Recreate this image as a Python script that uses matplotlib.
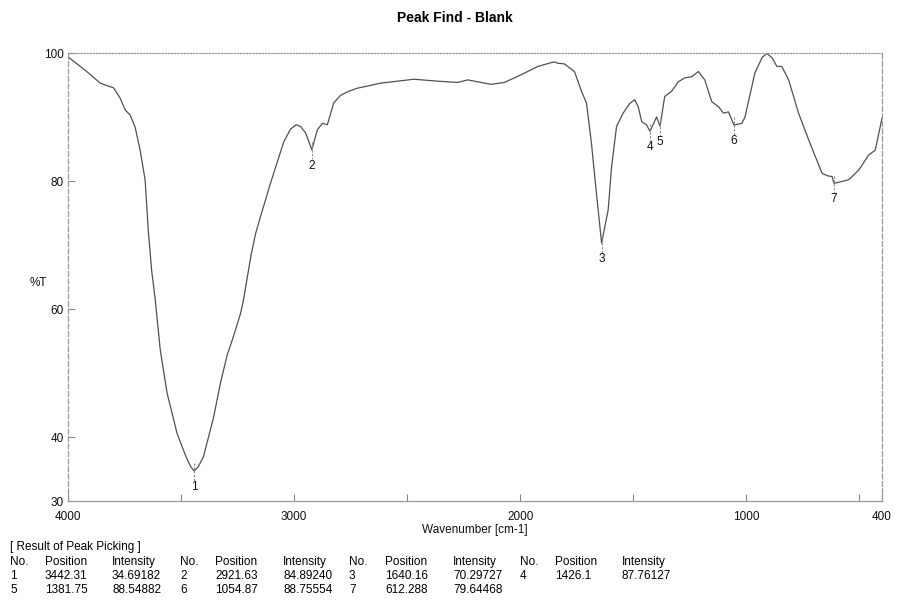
import matplotlib
matplotlib.use("Agg")
import matplotlib.pyplot as plt

plt.rcParams['font.family'] = ['Liberation Sans', 'DejaVu Sans']

# spectrum (wavenumber cm-1, %T)
wavenumber = [4000, 3960, 3917, 3858, 3820, 3800, 3792, 3770, 3747, 3725, 3703, 3681,
              3659, 3645, 3630, 3614, 3592, 3562, 3518, 3490, 3474, 3458, 3442.31, 3425,
              3401, 3356, 3326, 3296, 3275, 3255, 3237, 3224, 3190, 3170, 3149, 3104,
              3046, 3016, 2990, 2971, 2949, 2921.63, 2897, 2875, 2853, 2838, 2825,
              2794, 2760, 2720, 2616, 2543, 2470, 2365, 2276, 2232, 2188, 2129, 2070,
              1996, 1922, 1863, 1849, 1833, 1805, 1760, 1729, 1707, 1685, 1663,
              1640.16, 1611, 1596, 1574, 1545, 1516, 1494, 1478, 1463, 1441, 1426.1,
              1410, 1397, 1381.75, 1361, 1331, 1301, 1273, 1242, 1212, 1184, 1153,
              1123, 1101, 1079, 1054.87, 1035, 1020, 1006, 962, 930, 909, 885, 865,
              843, 813, 769, 724, 665, 640, 621, 612.288, 580, 547, 503, 458, 430, 400]
transmittance = [99.4, 98.3, 97.1, 95.3, 94.8, 94.6, 94.2, 93.0, 91.1, 90.3, 88.4, 84.8,
                 80.2, 72.3, 66.0, 61.4, 53.6, 46.9, 40.6, 38.0, 36.6, 35.4, 34.69, 35.3,
                 36.9, 43.1, 48.4, 52.8, 55.0, 57.2, 59.3, 61.4, 68.5, 71.8, 74.4, 79.7,
                 86.1, 88.1, 88.8, 88.5, 87.5, 84.89, 88.0, 89.0, 88.8, 90.6, 92.2,
                 93.4, 94.0, 94.5, 95.3, 95.6, 95.9, 95.6, 95.4, 95.8, 95.5, 95.1, 95.4,
                 96.6, 97.9, 98.5, 98.6, 98.4, 98.3, 97.1, 94.0, 92.2, 85.9, 78.1,
                 70.30, 75.5, 82.2, 88.5, 90.6, 92.1, 92.7, 91.6, 89.3, 88.75, 87.76,
                 89.0, 90.0, 88.55, 93.2, 94.0, 95.5, 96.1, 96.3, 97.1, 95.8, 92.4,
                 91.6, 90.6, 90.8, 88.76, 88.9, 89.0, 90.0, 96.9, 99.3, 99.95, 99.2, 97.9,
                 97.9, 95.8, 90.6, 86.4, 81.2, 80.8, 80.7, 79.64, 79.9, 80.2, 81.7, 84.1, 84.8, 89.8]

# peak picking result
peak_no = [1, 2, 3, 4, 5, 6, 7]
peak_pos = ["3442.31", "2921.63", "1640.16", "1426.1", "1381.75", "1054.87", "612.288"]
peak_int = ["34.69182", "84.89240", "70.29727", "87.76127", "88.54882", "88.75554", "79.64468"]

fig = plt.figure(figsize=(8.97, 6.01), dpi=100)
W, H = 897, 601
ax = fig.add_axes([68 / W, 1 - 501 / H, (882 - 68) / W, (501 - 53) / H])

grey = '#505050'
ax.plot(wavenumber, transmittance, color=grey, lw=0.9)

for n, p, t in zip(peak_no, peak_pos, peak_int):
    x, y = float(p), float(t)
    ax.plot([x, x], [y + 1.2, y - 1.5], color='#888888', lw=0.8, ls=(0, (2, 1.5)))
    ax.text(x, y - 2.5, str(n), ha='center', va='center', fontsize=8.5, color='#111111')

ax.set_xlim(4000, 400)
ax.set_ylim(30, 100)
ax.set_xticks([4000, 3000, 2000, 1000, 400])
ax.set_xticklabels(['4000', '3000', '2000', '1000', '400'])
ax.set_xticks([3500, 2500, 1500, 500], minor=True)
ax.set_yticks([30, 40, 60, 80, 100])
ax.set_yticks([50, 70, 90], minor=True)
ax.tick_params(axis='both', which='both', direction='in', length=5, width=0.8,
               colors='#888888', labelcolor='#111111', labelsize=8.5)
ax.tick_params(axis='x', which='both', pad=7)
ax.tick_params(axis='y', which='both', pad=3)
ax.tick_params(axis='y', which='minor', length=0)

for s in ['left', 'right']:
    ax.spines[s].set_linestyle((0, (4, 2)))
ax.spines['top'].set_linestyle((0, (1, 1.5)))
for s in ax.spines.values():
    s.set_color('#999999')
    s.set_linewidth(0.9)

ax.set_xlabel('Wavenumber [cm-1]', fontsize=8.5, labelpad=1, color='#111111')
fig.text(30 / W, 1 - 283 / H, '%T', fontsize=8.5, ha='left', va='center', color='#111111')
fig.text(455 / W, 1 - 18 / H, 'Peak Find - Blank', fontsize=10, fontweight='bold',
         ha='center', va='center')

# peak picking table
fs = 8.5
fig.text(10 / W, 1 - 547 / H, '[ Result of Peak Picking ]', fontsize=fs, va='center')
col_x = [10, 45, 112, 180, 215, 283, 349, 385, 453, 520, 555, 622]
rows_y = [562, 576, 590]
for k in range(4):
    for j, head in enumerate(['No.', 'Position', 'Intensity']):
        fig.text(col_x[3 * k + j] / W, 1 - rows_y[0] / H, head, fontsize=fs, va='center')
for i in range(len(peak_no)):
    r, c = divmod(i, 4)
    vals = [str(peak_no[i]), peak_pos[i], peak_int[i]]
    for j, v in enumerate(vals):
        fig.text(col_x[3 * c + j] / W, 1 - rows_y[r + 1] / H, v, fontsize=fs, va='center')

fig.savefig('out.png', dpi=100)
